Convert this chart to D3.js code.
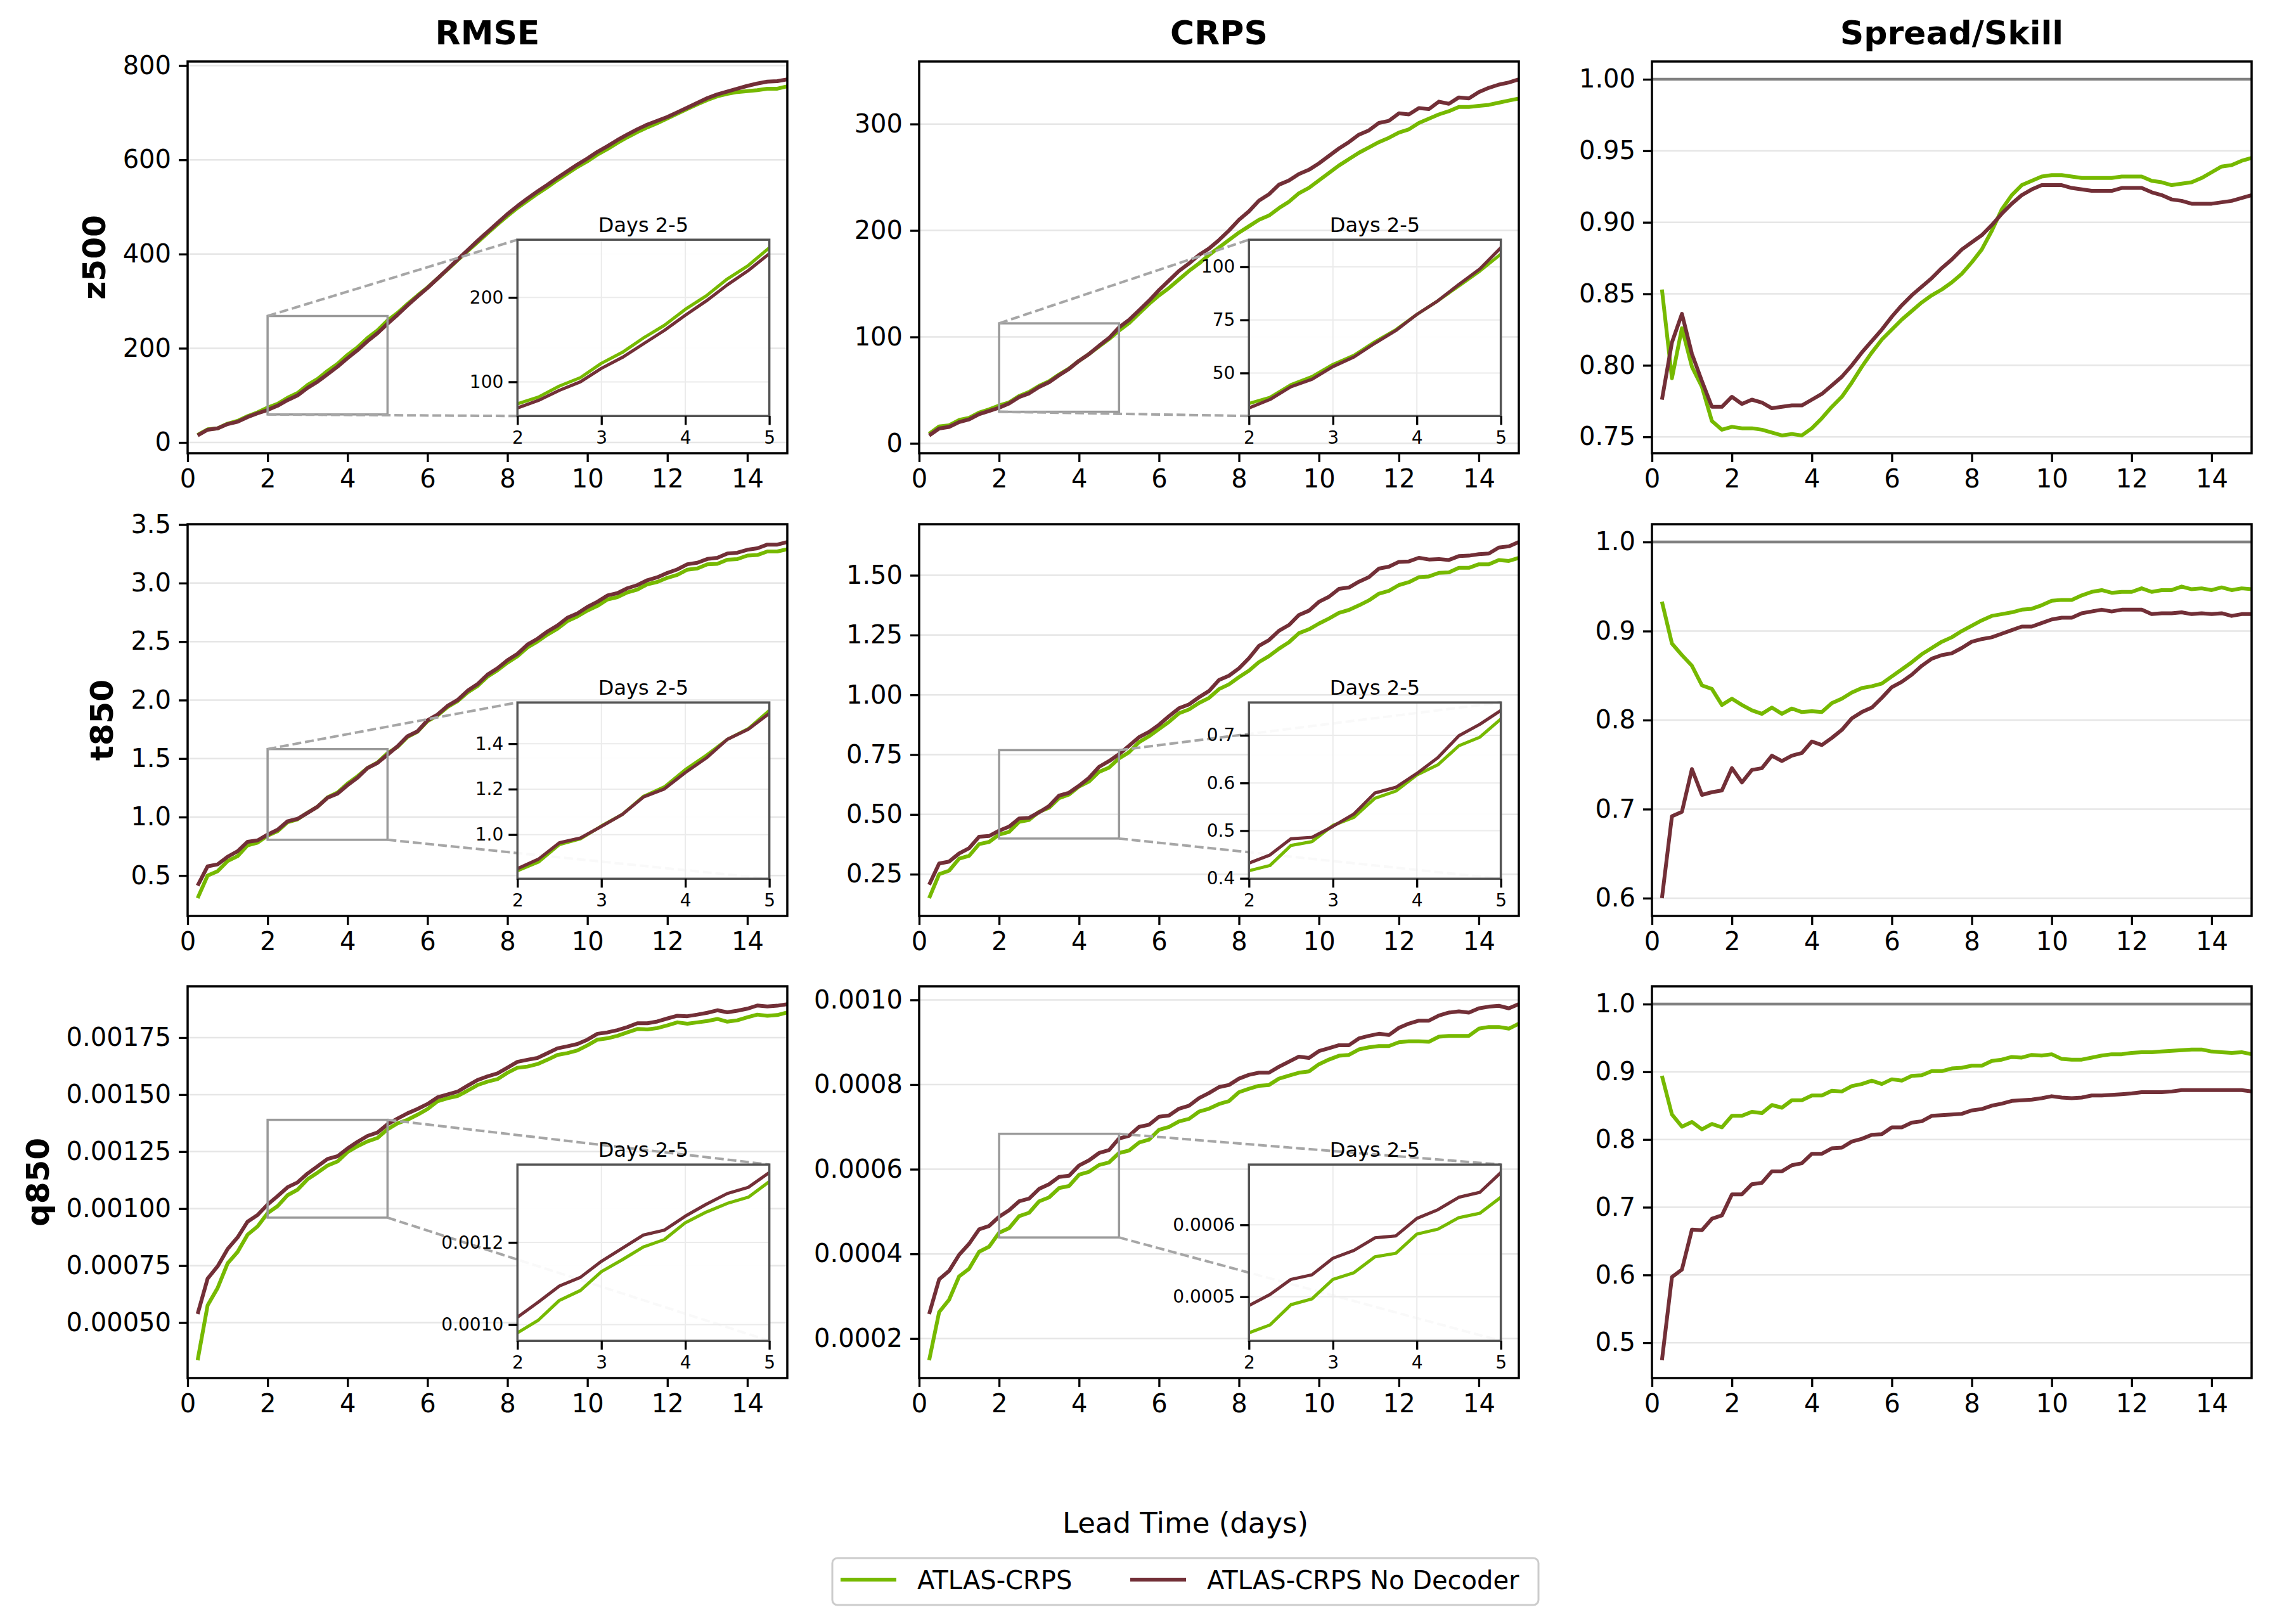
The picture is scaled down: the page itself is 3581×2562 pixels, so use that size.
<!DOCTYPE html>
<html>
<head>
<meta charset="utf-8">
<script src="https://cdn.jsdelivr.net/npm/d3@7"></script>
<style>
  body { margin: 0; background: #fff; }
  text { font-family: "DejaVu Sans", sans-serif; }
</style>
</head>
<body>
<script>
// lead time in days (6-hourly steps)
const leadTimes = [0.25, 0.5, 0.75, 1, 1.25, 1.5, 1.75, 2, 2.25, 2.5, 2.75, 3, 3.25, 3.5, 3.75, 4,
  4.25, 4.5, 4.75, 5, 5.25, 5.5, 5.75, 6, 6.25, 6.5, 6.75, 7, 7.25, 7.5, 7.75, 8, 8.25, 8.5, 8.75, 9,
  9.25, 9.5, 9.75, 10, 10.25, 10.5, 10.75, 11, 11.25, 11.5, 11.75, 12, 12.25, 12.5, 12.75, 13, 13.25,
  13.5, 13.75, 14, 14.25, 14.5, 14.75, 15];

const columns = ['RMSE', 'CRPS', 'Spread/Skill'];
const rowLabels = ['z500', 't850', 'q850'];
const seriesNames = ['ATLAS-CRPS', 'ATLAS-CRPS No Decoder'];
const xTicks = [0, 2, 4, 6, 8, 10, 12, 14];
const insetXTicks = [2, 3, 4, 5];

// z500
const z500RmseAtlas = [16, 28, 30, 40, 46, 56, 64, 74, 82, 95, 105, 122, 135, 152, 167, 186, 202, 222, 238, 259,
  275, 294, 312, 329, 348, 367, 387, 406, 425, 444, 463, 481, 498, 513, 528, 542, 557, 571, 585, 597,
  611, 623, 636, 648, 659, 669, 678, 688, 698, 708, 718, 727, 735, 740, 744, 746, 748, 751, 751, 756];
const z500RmseNoDec = [15, 27, 30, 39, 44, 54, 62, 69, 78, 90, 100, 116, 129, 145, 161, 179, 196, 215, 232, 252,
  271, 291, 310, 328, 348, 368, 388, 408, 428, 447, 466, 485, 502, 518, 533, 547, 562, 576, 590, 603,
  617, 629, 642, 654, 665, 675, 683, 691, 701, 711, 721, 731, 739, 745, 751, 757, 762, 766, 767, 771];
const z500CrpsAtlas = [9, 16, 17, 22, 24, 29, 32, 35.6, 38.5, 44.5, 48.3, 54, 58.3, 64.7, 70.4, 77.6, 84, 91, 98, 106,
  113, 122, 131, 139, 146, 154, 162, 169, 177, 184, 191, 198, 204, 210, 214, 221, 227, 235, 240, 247,
  254, 261, 267, 273, 278, 283, 287, 292, 295, 301, 305, 309, 312, 316, 316, 317, 318, 320, 322, 324];
const z500CrpsNoDec = [7.5, 14, 15.5, 20, 22.5, 27.5, 30.5, 33.5, 37.5, 43.5, 47, 53, 57.5, 64, 70, 77.6, 84, 91.7, 99, 109,
  116, 125, 134, 144, 153, 162, 169, 177, 183, 191, 200, 210, 218, 228, 234, 243, 247, 253, 257, 263,
  270, 277, 283, 290, 294, 301, 303, 310, 309, 315, 314, 321, 319, 325, 324, 330, 334, 337, 339, 342];
const z500SsAtlas = [0.853, 0.791, 0.826, 0.799, 0.785, 0.761, 0.755, 0.757, 0.756, 0.756, 0.755, 0.753, 0.751, 0.752,
  0.751, 0.756, 0.763, 0.771, 0.778, 0.788, 0.799, 0.809, 0.818, 0.825, 0.832, 0.838, 0.844, 0.849, 0.853, 0.858,
  0.864, 0.872, 0.881, 0.894, 0.909, 0.919, 0.926, 0.929, 0.932, 0.933, 0.933, 0.932, 0.931, 0.931, 0.931, 0.931,
  0.932, 0.932, 0.932, 0.929, 0.928, 0.926, 0.927, 0.928, 0.931, 0.935, 0.939, 0.940, 0.943, 0.945];
const z500SsNoDec = [0.776, 0.816, 0.836, 0.808, 0.789, 0.771, 0.771, 0.778, 0.773, 0.776, 0.774, 0.770, 0.771, 0.772,
  0.772, 0.776, 0.780, 0.786, 0.792, 0.800, 0.809, 0.817, 0.825, 0.834, 0.842, 0.849, 0.855, 0.861, 0.868, 0.874,
  0.881, 0.886, 0.891, 0.898, 0.906, 0.913, 0.919, 0.923, 0.926, 0.926, 0.926, 0.924, 0.923, 0.922, 0.922, 0.922,
  0.924, 0.924, 0.924, 0.921, 0.919, 0.916, 0.915, 0.913, 0.913, 0.913, 0.914, 0.915, 0.917, 0.919];

// t850
const t850RmseAtlas = [0.307, 0.50, 0.537, 0.624, 0.666, 0.759, 0.782, 0.841, 0.879, 0.956, 0.981, 1.038, 1.089, 1.168,
  1.21, 1.286, 1.349, 1.419, 1.466, 1.546, 1.60, 1.685, 1.73, 1.82, 1.868, 1.94, 1.99, 2.065, 2.12, 2.20,
  2.255, 2.32, 2.375, 2.45, 2.50, 2.56, 2.61, 2.675, 2.715, 2.765, 2.805, 2.86, 2.88, 2.92, 2.945, 2.99,
  3.01, 3.045, 3.07, 3.115, 3.125, 3.16, 3.165, 3.20, 3.205, 3.235, 3.24, 3.27, 3.27, 3.29];
const t850RmseNoDec = [0.414, 0.579, 0.596, 0.661, 0.708, 0.789, 0.801, 0.85, 0.892, 0.964, 0.985, 1.036, 1.089, 1.165,
  1.201, 1.273, 1.337, 1.419, 1.463, 1.533, 1.605, 1.691, 1.733, 1.827, 1.876, 1.95, 2.0, 2.079, 2.136, 2.217,
  2.272, 2.341, 2.395, 2.474, 2.524, 2.586, 2.637, 2.704, 2.741, 2.796, 2.84, 2.894, 2.914, 2.956, 2.983, 3.025,
  3.05, 3.087, 3.117, 3.161, 3.174, 3.206, 3.216, 3.253, 3.26, 3.285, 3.297, 3.329, 3.329, 3.351];
const t850CrpsAtlas = [0.15, 0.25, 0.265, 0.315, 0.327, 0.376, 0.385, 0.416, 0.427, 0.469, 0.477, 0.511, 0.528, 0.568,
  0.583, 0.617, 0.638, 0.678, 0.696, 0.734, 0.76, 0.802, 0.827, 0.857, 0.887, 0.923, 0.939, 0.966, 0.987, 1.024,
  1.044, 1.074, 1.101, 1.137, 1.162, 1.193, 1.22, 1.258, 1.274, 1.298, 1.319, 1.343, 1.355, 1.374, 1.395, 1.423,
  1.435, 1.459, 1.471, 1.492, 1.495, 1.51, 1.512, 1.531, 1.531, 1.546, 1.546, 1.564, 1.56, 1.573];
const t850CrpsNoDec = [0.206, 0.295, 0.303, 0.337, 0.359, 0.407, 0.41, 0.432, 0.449, 0.483, 0.486, 0.509, 0.535, 0.579,
  0.591, 0.62, 0.653, 0.699, 0.723, 0.752, 0.787, 0.823, 0.845, 0.875, 0.911, 0.944, 0.96, 0.99, 1.016, 1.062,
  1.08, 1.111, 1.153, 1.205, 1.229, 1.268, 1.292, 1.334, 1.352, 1.389, 1.41, 1.443, 1.449, 1.473, 1.492, 1.528,
  1.536, 1.556, 1.558, 1.573, 1.566, 1.568, 1.564, 1.58, 1.582, 1.588, 1.591, 1.616, 1.621, 1.639];
const t850SsAtlas = [0.933, 0.886, 0.873, 0.861, 0.839, 0.835, 0.817, 0.824, 0.817, 0.811, 0.807, 0.814, 0.807, 0.813,
  0.809, 0.81, 0.809, 0.819, 0.824, 0.831, 0.836, 0.838, 0.841, 0.849, 0.857, 0.865, 0.874, 0.881, 0.888, 0.893,
  0.9, 0.906, 0.912, 0.917, 0.919, 0.921, 0.924, 0.925, 0.929, 0.934, 0.935, 0.935, 0.94, 0.944, 0.946, 0.943,
  0.944, 0.944, 0.948, 0.944, 0.946, 0.946, 0.95, 0.947, 0.948, 0.946, 0.949, 0.946, 0.948, 0.947];
const t850SsNoDec = [0.6, 0.692, 0.697, 0.745, 0.716, 0.719, 0.721, 0.746, 0.73, 0.744, 0.746, 0.76, 0.754, 0.76,
  0.763, 0.776, 0.772, 0.78, 0.789, 0.802, 0.809, 0.814, 0.825, 0.837, 0.843, 0.851, 0.861, 0.869, 0.873, 0.875,
  0.881, 0.888, 0.891, 0.893, 0.897, 0.901, 0.905, 0.905, 0.909, 0.913, 0.915, 0.915, 0.92, 0.922, 0.924, 0.922,
  0.924, 0.924, 0.924, 0.919, 0.92, 0.92, 0.921, 0.919, 0.92, 0.919, 0.92, 0.917, 0.919, 0.919];

// q850
const q850RmseAtlas = [0.000335, 0.000576, 0.000652, 0.00076, 0.00081, 0.000886, 0.000922, 0.00098, 0.001011, 0.001059,
  0.001083, 0.001129, 0.001158, 0.001189, 0.001207, 0.001248, 0.001274, 0.001295, 0.00131, 0.001348, 0.001374, 0.00139,
  0.001412, 0.001437, 0.001471, 0.001484, 0.001494, 0.001517, 0.001542, 0.001557, 0.001568, 0.001596, 0.001618, 0.001623,
  0.001634, 0.001653, 0.001674, 0.001682, 0.001694, 0.001716, 0.001741, 0.001747, 0.001758, 0.001773, 0.001788, 0.001786,
  0.001792, 0.001804, 0.001817, 0.001811, 0.001817, 0.001823, 0.001832, 0.00182, 0.001826, 0.001839, 0.001851, 0.001846,
  0.001849, 0.001861];
const q850RmseNoDec = [0.000538, 0.000693, 0.000747, 0.000823, 0.000874, 0.000943, 0.000972, 0.001018, 0.001055, 0.001094,
  0.001115, 0.001154, 0.001186, 0.001218, 0.00123, 0.001264, 0.001293, 0.001319, 0.001334, 0.00137, 0.001395, 0.001418,
  0.001437, 0.001459, 0.001488, 0.001501, 0.001513, 0.001539, 0.001564, 0.00158, 0.001593, 0.001618, 0.001644, 0.001653,
  0.001661, 0.001682, 0.001703, 0.001712, 0.001722, 0.001741, 0.001767, 0.001773, 0.001783, 0.001796, 0.001813, 0.001813,
  0.001821, 0.001834, 0.001846, 0.001844, 0.001851, 0.001859, 0.00187, 0.001861, 0.001868, 0.001877, 0.001891, 0.001887,
  0.00189, 0.001897];
const q850CrpsAtlas = [0.0001488, 0.0002628, 0.000292, 0.000347, 0.000365, 0.000405, 0.000417, 0.00045, 0.0004609,
  0.0004891, 0.0004972, 0.0005242, 0.0005335, 0.0005556, 0.0005605, 0.0005871, 0.000594, 0.00061, 0.0006161, 0.0006383,
  0.000644, 0.000663, 0.00067, 0.000693, 0.0007, 0.000713, 0.000719, 0.000736, 0.000743, 0.000754, 0.000761, 0.000782,
  0.00079, 0.000797, 0.000799, 0.000814, 0.000821, 0.000828, 0.000831, 0.000848, 0.000859, 0.000868, 0.00087, 0.000883,
  0.000888, 0.000891, 0.000891, 0.0009, 0.000902, 0.000902, 0.000901, 0.000913, 0.000915, 0.000915, 0.000915, 0.000932,
  0.000936, 0.000936, 0.000932, 0.000944];
const q850CrpsNoDec = [0.000258, 0.00034, 0.00036, 0.000398, 0.000424, 0.000458, 0.000466, 0.0004879, 0.0005032,
  0.0005242, 0.0005306, 0.0005536, 0.0005645, 0.0005819, 0.0005847, 0.0006089, 0.000621, 0.0006383, 0.0006452, 0.0006726,
  0.000679, 0.0007, 0.000705, 0.000724, 0.000727, 0.000743, 0.00075, 0.000768, 0.00078, 0.000794, 0.000799, 0.000814,
  0.000823, 0.000828, 0.000828, 0.000842, 0.000854, 0.000866, 0.000863, 0.000879, 0.000886, 0.000893, 0.000893, 0.000909,
  0.000915, 0.00092, 0.000917, 0.000934, 0.000944, 0.000951, 0.000951, 0.000963, 0.00097, 0.000973, 0.00097, 0.00098,
  0.000984, 0.000986, 0.00098, 0.00099];
const q850SsAtlas = [0.894, 0.837, 0.819, 0.826, 0.815, 0.823, 0.818, 0.835, 0.835, 0.841, 0.839, 0.851, 0.847, 0.858,
  0.858, 0.865, 0.865, 0.872, 0.871, 0.879, 0.882, 0.887, 0.882, 0.889, 0.887, 0.894, 0.895, 0.901, 0.901, 0.905,
  0.906, 0.909, 0.909, 0.916, 0.918, 0.922, 0.921, 0.925, 0.924, 0.926, 0.919, 0.918, 0.918, 0.921, 0.924, 0.926,
  0.926, 0.928, 0.929, 0.929, 0.93, 0.931, 0.932, 0.933, 0.933, 0.93, 0.929, 0.928, 0.929, 0.926];
const q850SsNoDec = [0.474, 0.597, 0.608, 0.667, 0.666, 0.683, 0.688, 0.719, 0.719, 0.734, 0.736, 0.753, 0.753, 0.762,
  0.765, 0.779, 0.779, 0.787, 0.788, 0.797, 0.801, 0.807, 0.808, 0.818, 0.818, 0.825, 0.827, 0.835, 0.836, 0.837,
  0.838, 0.843, 0.845, 0.85, 0.853, 0.857, 0.858, 0.859, 0.861, 0.864, 0.862, 0.861, 0.862, 0.865, 0.865, 0.866,
  0.867, 0.868, 0.87, 0.87, 0.87, 0.871, 0.873, 0.873, 0.873, 0.873, 0.873, 0.873, 0.873, 0.871];

// y tick values
const z500RmseTicks = [0, 200, 400, 600, 800];
const z500CrpsTicks = [0, 100, 200, 300];
const z500SsTicks = [0.75, 0.80, 0.85, 0.90, 0.95, 1.00];
const t850RmseTicks = [0.5, 1.0, 1.5, 2.0, 2.5, 3.0, 3.5];
const t850CrpsTicks = [0.25, 0.50, 0.75, 1.00, 1.25, 1.50];
const t850SsTicks = [0.6, 0.7, 0.8, 0.9, 1.0];
const q850RmseTicks = [0.0005, 0.00075, 0.001, 0.00125, 0.0015, 0.00175];
const q850CrpsTicks = [0.0002, 0.0004, 0.0006, 0.0008, 0.001];
const q850SsTicks = [0.5, 0.6, 0.7, 0.8, 0.9, 1.0];
const z500RmseInsetTicks = [100, 200];
const z500CrpsInsetTicks = [50, 75, 100];
const t850RmseInsetTicks = [1.0, 1.2, 1.4];
const t850CrpsInsetTicks = [0.4, 0.5, 0.6, 0.7];
const q850RmseInsetTicks = [0.001, 0.0012];
const q850CrpsInsetTicks = [0.0005, 0.0006];

const GREEN = '#76b900', MAROON = '#722f37';
const W = 3581, H = 2562;
const COL_X = [296, 1450, 2606], ROW_Y = [97, 827, 1556];
const PW = 946, PH = 618;
const FONT = '"DejaVu Sans", sans-serif';

const panels = [
  { row: 0, col: 0, a: z500RmseAtlas, b: z500RmseNoDec, ticks: z500RmseTicks, fmt: '.0f',
    inset: { ticks: z500RmseInsetTicks, fmt: '.0f', links: ['ul', 'll'] } },
  { row: 0, col: 1, a: z500CrpsAtlas, b: z500CrpsNoDec, ticks: z500CrpsTicks, fmt: '.0f',
    inset: { ticks: z500CrpsInsetTicks, fmt: '.0f', links: ['ul', 'll'] } },
  { row: 0, col: 2, a: z500SsAtlas, b: z500SsNoDec, ticks: z500SsTicks, fmt: '.2f', ref: true },
  { row: 1, col: 0, a: t850RmseAtlas, b: t850RmseNoDec, ticks: t850RmseTicks, fmt: '.1f',
    inset: { ticks: t850RmseInsetTicks, fmt: '.1f', links: ['ul', 'lr'] } },
  { row: 1, col: 1, a: t850CrpsAtlas, b: t850CrpsNoDec, ticks: t850CrpsTicks, fmt: '.2f',
    inset: { ticks: t850CrpsInsetTicks, fmt: '.1f', links: ['ur', 'lr'] } },
  { row: 1, col: 2, a: t850SsAtlas, b: t850SsNoDec, ticks: t850SsTicks, fmt: '.1f', ref: true },
  { row: 2, col: 0, a: q850RmseAtlas, b: q850RmseNoDec, ticks: q850RmseTicks, fmt: '.5f',
    inset: { ticks: q850RmseInsetTicks, fmt: '.4f', links: ['ur', 'lr'] } },
  { row: 2, col: 1, a: q850CrpsAtlas, b: q850CrpsNoDec, ticks: q850CrpsTicks, fmt: '.4f',
    inset: { ticks: q850CrpsInsetTicks, fmt: '.4f', links: ['ur', 'lr'] } },
  { row: 2, col: 2, a: q850SsAtlas, b: q850SsNoDec, ticks: q850SsTicks, fmt: '.1f', ref: true },
];

const svg = d3.select('body').append('svg')
  .attr('width', W).attr('height', H).style('display', 'block');
svg.append('rect').attr('width', W).attr('height', H).attr('fill', '#fff');

// matplotlib-like 5% margin
const padded = vals => {
  const [lo, hi] = d3.extent(vals);
  const p = (hi - lo) * 0.05;
  return [lo - p, hi + p];
};

const styleAxis = (axisG, size) => {
  axisG.select('.domain').remove();
  axisG.selectAll('line').attr('stroke', '#000').attr('stroke-width', 3.3);
  axisG.selectAll('text').attr('font-size', size).attr('font-family', FONT).attr('fill', '#000');
};

const drawInset = (g, p, x, y, k) => {
  const idx = leadTimes.map((t, i) => i).filter(i => leadTimes[i] >= 2 && leadTimes[i] <= 5);
  const yd = padded(idx.flatMap(i => [p.a[i], p.b[i]]));
  const iw = PW * 0.42, ih = PH * 0.45;
  const ix0 = PW * 0.55, iy0 = PH * (1 - 0.095) - ih;
  const ix = d3.scaleLinear().domain([2, 5]).range([ix0, ix0 + iw]);
  const iy = d3.scaleLinear().domain(yd).range([iy0 + ih, iy0]);

  // zoom box on the parent axes
  const r = { x0: x(2), x1: x(5), top: y(yd[1]), bot: y(yd[0]) };
  g.append('rect')
    .attr('x', r.x0).attr('y', r.top)
    .attr('width', r.x1 - r.x0).attr('height', r.bot - r.top)
    .attr('fill', 'none').attr('stroke', '#9a9a9a').attr('stroke-width', 3.5);

  const corners = {
    ul: [[r.x0, r.top], [ix0, iy0]],
    ll: [[r.x0, r.bot], [ix0, iy0 + ih]],
    ur: [[r.x1, r.top], [ix0 + iw, iy0]],
    lr: [[r.x1, r.bot], [ix0 + iw, iy0 + ih]],
  };
  p.inset.links.forEach(c => {
    const [[x1, y1], [x2, y2]] = corners[c];
    g.append('line')
      .attr('x1', x1).attr('y1', y1).attr('x2', x2).attr('y2', y2)
      .attr('stroke', '#a6a6a6').attr('stroke-width', 4)
      .attr('stroke-dasharray', '14,6');
  });

  const ig = g.append('g');
  ig.append('rect')
    .attr('x', ix0).attr('y', iy0).attr('width', iw).attr('height', ih)
    .attr('fill', '#fff').attr('fill-opacity', 0.93);

  ig.append('g').selectAll('line').data(insetXTicks).join('line')
    .attr('x1', d => ix(d)).attr('x2', d => ix(d))
    .attr('y1', iy0).attr('y2', iy0 + ih)
    .attr('stroke', '#ebebeb').attr('stroke-width', 2);
  ig.append('g').selectAll('line').data(p.inset.ticks).join('line')
    .attr('x1', ix0).attr('x2', ix0 + iw)
    .attr('y1', d => iy(d)).attr('y2', d => iy(d))
    .attr('stroke', '#ebebeb').attr('stroke-width', 2);

  const clipId = 'iclip' + k;
  ig.append('clipPath').attr('id', clipId).append('rect')
    .attr('x', ix0).attr('y', iy0).attr('width', iw).attr('height', ih);
  const iline = d3.line()
    .defined((d, i) => leadTimes[i] >= 1.75 && leadTimes[i] <= 5.25)
    .x((d, i) => ix(leadTimes[i])).y(d => iy(d));
  const ip = ig.append('g').attr('clip-path', `url(#${clipId})`);
  [[p.a, GREEN], [p.b, MAROON]].forEach(([s, c]) => {
    ip.append('path').datum(s).attr('d', iline)
      .attr('fill', 'none').attr('stroke', c).attr('stroke-width', 5)
      .attr('stroke-linejoin', 'round');
  });

  ig.append('rect')
    .attr('x', ix0).attr('y', iy0).attr('width', iw).attr('height', ih)
    .attr('fill', 'none').attr('stroke', '#555').attr('stroke-width', 3.5);

  const ixa = ig.append('g').attr('transform', `translate(0,${iy0 + ih})`)
    .call(d3.axisBottom(ix).tickValues(insetXTicks).tickFormat(d3.format('d')).tickSize(14).tickPadding(10));
  const iya = ig.append('g').attr('transform', `translate(${ix0},0)`)
    .call(d3.axisLeft(iy).tickValues(p.inset.ticks).tickFormat(d3.format(p.inset.fmt)).tickSize(14).tickPadding(8));
  styleAxis(ixa, 28);
  styleAxis(iya, 28);

  ig.append('text')
    .attr('x', ix0 + iw / 2).attr('y', iy0 - 12)
    .attr('text-anchor', 'middle').attr('font-size', 32).attr('font-family', FONT)
    .text('Days 2-5');
};

panels.forEach((p, k) => {
  const g = svg.append('g').attr('transform', `translate(${COL_X[p.col]},${ROW_Y[p.row]})`);
  const x = d3.scaleLinear().domain([0, 15]).range([0, PW]);
  const y = d3.scaleLinear()
    .domain(padded(p.a.concat(p.b, p.ref ? [1] : [])))
    .range([PH, 0]);

  g.append('g').selectAll('line').data(p.ticks).join('line')
    .attr('x1', 0).attr('x2', PW)
    .attr('y1', d => y(d)).attr('y2', d => y(d))
    .attr('stroke', '#e6e6e6').attr('stroke-width', 2.5);

  if (p.ref) {
    g.append('line')
      .attr('x1', 0).attr('x2', PW).attr('y1', y(1)).attr('y2', y(1))
      .attr('stroke', '#808080').attr('stroke-width', 4.5);
  }

  const clipId = 'clip' + k;
  g.append('clipPath').attr('id', clipId).append('rect').attr('width', PW).attr('height', PH);
  const line = d3.line().x((d, i) => x(leadTimes[i])).y(d => y(d));
  const plot = g.append('g').attr('clip-path', `url(#${clipId})`);
  [[p.a, GREEN], [p.b, MAROON]].forEach(([s, c]) => {
    plot.append('path').datum(s).attr('d', line)
      .attr('fill', 'none').attr('stroke', c).attr('stroke-width', 6)
      .attr('stroke-linejoin', 'round');
  });

  if (p.inset) drawInset(g, p, x, y, k);

  g.append('rect').attr('width', PW).attr('height', PH)
    .attr('fill', 'none').attr('stroke', '#000').attr('stroke-width', 3.5);

  const xa = g.append('g').attr('transform', `translate(0,${PH})`)
    .call(d3.axisBottom(x).tickValues(xTicks).tickFormat(d3.format('d')).tickSize(14).tickPadding(12));
  const ya = g.append('g')
    .call(d3.axisLeft(y).tickValues(p.ticks).tickFormat(d3.format(p.fmt)).tickSize(14).tickPadding(12));
  styleAxis(xa, 40);
  styleAxis(ya, 40);

  if (p.row === 0) {
    g.append('text')
      .attr('x', PW / 2).attr('y', -27)
      .attr('text-anchor', 'middle').attr('font-size', 52).attr('font-weight', 'bold')
      .attr('font-family', FONT)
      .text(columns[p.col]);
  }
  if (p.col === 0) {
    const bb = ya.node().getBBox();
    g.append('text')
      .attr('transform', `translate(${bb.x - 28},${PH / 2}) rotate(-90)`)
      .attr('text-anchor', 'middle').attr('font-size', 50).attr('font-weight', 'bold')
      .attr('font-family', FONT)
      .text(rowLabels[p.row]);
  }
});

svg.append('text')
  .attr('x', 1870).attr('y', 2418)
  .attr('text-anchor', 'middle').attr('font-size', 45).attr('font-family', FONT)
  .text('Lead Time (days)');

// legend
const legend = svg.append('g');
legend.append('rect')
  .attr('x', 1313).attr('y', 2458).attr('width', 1114).attr('height', 74).attr('rx', 8)
  .attr('fill', '#fff').attr('stroke', '#cccccc').attr('stroke-width', 3);
const legendX = [1326, 1783];
seriesNames.forEach((name, i) => {
  const c = i === 0 ? GREEN : MAROON;
  legend.append('line')
    .attr('x1', legendX[i]).attr('x2', legendX[i] + 88)
    .attr('y1', 2492).attr('y2', 2492)
    .attr('stroke', c).attr('stroke-width', 6);
  legend.append('text')
    .attr('x', legendX[i] + 121).attr('y', 2507)
    .attr('font-size', 40).attr('font-family', FONT)
    .text(name);
});
</script>
</body>
</html>
